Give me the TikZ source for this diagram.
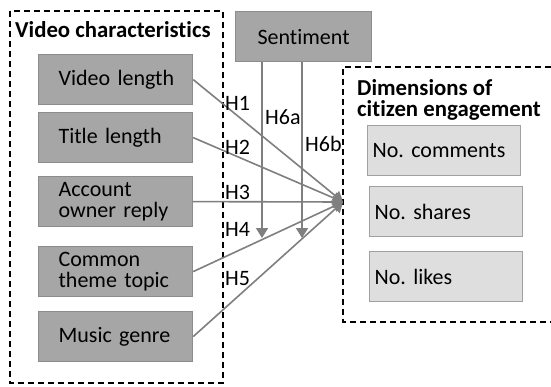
\documentclass[tikz,border=0pt]{standalone}
\usepackage{fontspec}
\setmainfont{Carlito}[Ligatures={NoCommon}]
\usetikzlibrary{arrows.meta}
\definecolor{boxfill}{HTML}{A6A6A6}
\definecolor{boxdraw}{HTML}{8C8C8C}
\definecolor{lightfill}{HTML}{DEDEDE}
\definecolor{lightdraw}{HTML}{A0A0A0}
\definecolor{linecol}{HTML}{7F7F7F}
\tikzset{
  gbox/.style={draw=boxdraw, fill=boxfill, line width=1.2pt, anchor=north west,
    minimum width=154pt, minimum height=50pt, text width=114pt, inner xsep=20pt,
    inner ysep=0pt, align=left, font=\fontsize{22}{21}\selectfont},
  lbox/.style={draw=lightdraw, fill=lightfill, line width=1.2pt, anchor=north west,
    minimum width=153pt, minimum height=50pt, text width=143pt, inner xsep=5pt,
    inner ysep=0pt, align=left, font=\fontsize{22}{21}\selectfont},
  sbox/.style={draw=boxdraw, fill=boxfill, line width=1.2pt, anchor=north west,
    minimum width=136pt, minimum height=50pt, inner sep=0pt, align=center,
    font=\fontsize{22}{21}\selectfont},
  grp/.style={draw=black, line width=1.4pt, dash pattern=on 6pt off 4pt},
  ttl/.style={inner sep=0pt, align=left, font=\fontsize{22.8}{21}\selectfont\bfseries},
  hlab/.style={inner sep=0pt, anchor=west, font=\fontsize{22}{20}\selectfont},
  conn/.style={draw=linecol, line width=1.6pt, -{Triangle[length=10pt,width=12pt]}},
}
\begin{document}
\begin{tikzpicture}[x=1pt,y=-1pt]
\useasboundingbox (0,0) rectangle (551,386);
\fill[white] (0,0) rectangle (551,386);
% groups
\draw[grp] (10,11) rectangle (223,383);
\draw[grp] (551,67) -- (343,67) -- (343,322) -- (551,322);
\node[ttl, anchor=base west] (vc) at (15,37) {Video characteristics};
\node[ttl, anchor=north west] (dc) at (357,79) {Dimensions of\\citizen engagement};
% boxes
\node[gbox] (vl) at (38,54) {Video~length};
\node[gbox] (tl) at (38,112) {Title~length};
\node[gbox] (ar) at (38,176) {Account\\owner~reply};
\node[gbox] (ct) at (38,246) {Common\\theme~topic};
\node[gbox] (mg) at (38,311) {Music~genre};
\node[sbox] (se) at (235,11) {Sentiment};
\node[lbox] (nc) at (367,125) {No.~comments};
\node[lbox] (ns) at (369,186) {No.~shares};
\node[lbox] (nl) at (369,251) {No.~likes};
% connectors
\coordinate (c) at (343,202);
\coordinate (s1) at (262,238);
\coordinate (s2) at (302,238);
\draw[conn] (vl.east) -- (c);
\draw[conn] (tl.east) -- (c);
\draw[conn] (ar.east) -- (c);
\draw[conn] (ct.east) -- (c);
\draw[conn] (mg.east) -- (c);
\draw[conn] (se.south -| s1) -- (s1);
\draw[conn] (se.south -| s2) -- (s2);
% labels
\node[hlab] (h1) at (225,103) {H1};
\node[hlab] (h2) at (225,147) {H2};
\node[hlab] (h3) at (225,192) {H3};
\node[hlab] (h4) at (225,229) {H4};
\node[hlab] (h5) at (225,279) {H5};
\node[hlab] (h6a) at (265,117) {H6a};
\node[hlab] (h6b) at (305,143.5) {H6b};
\end{tikzpicture}
\end{document}
